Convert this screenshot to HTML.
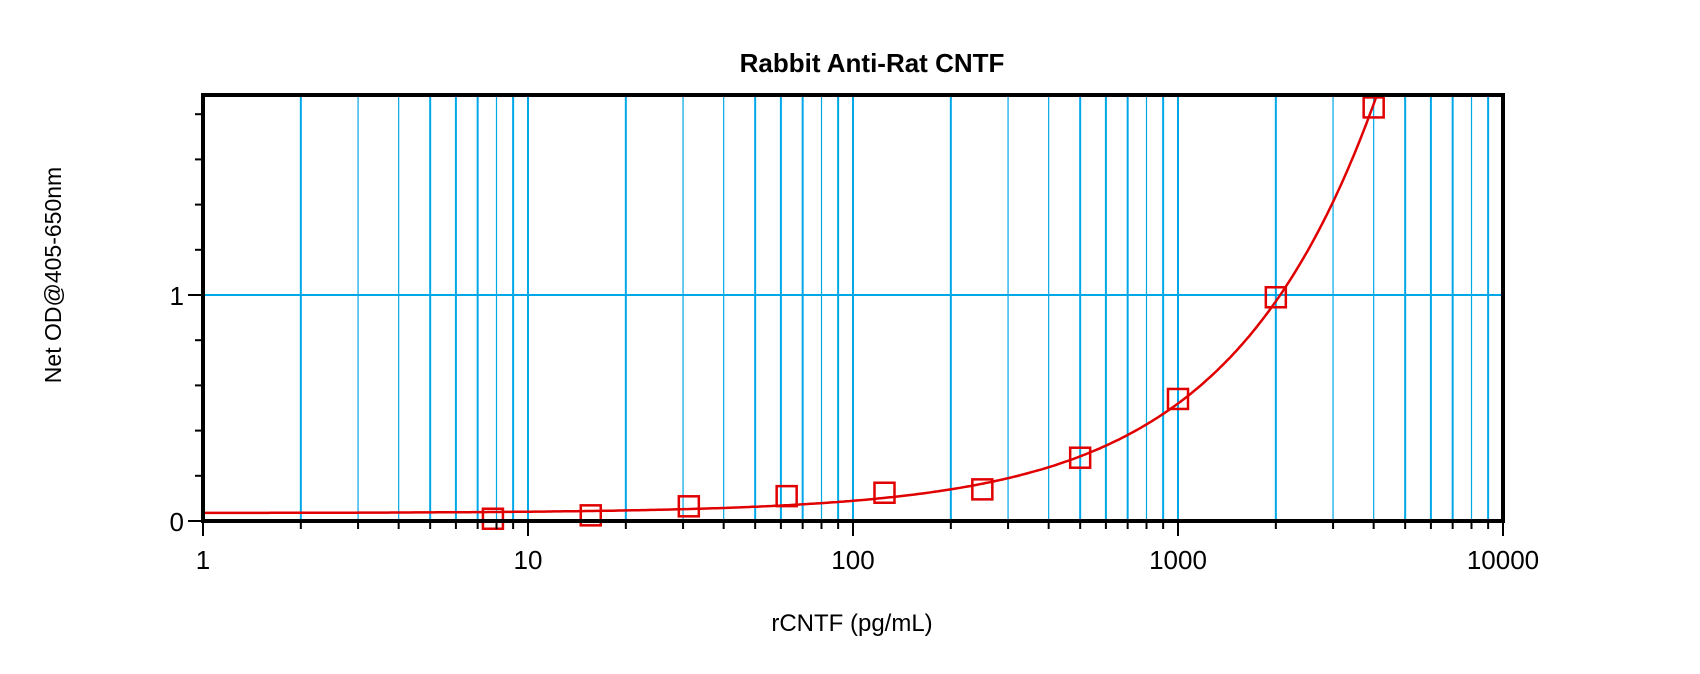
<!DOCTYPE html>
<html><head><style>body{margin:0;background:#fff}svg{display:block}</style></head>
<body>
<svg id="s" width="1700" height="674" xmlns="http://www.w3.org/2000/svg" font-family="Liberation Sans, sans-serif">
<defs><clipPath id="c"><rect x="203" y="95" width="1300" height="426"/></clipPath></defs>
<g id="grid" stroke="#00a8e8"></g>
<path id="curve" fill="none" stroke="#e00000" stroke-width="2.5" clip-path="url(#c)"/>
<g id="pts" fill="none" stroke="#e00000" stroke-width="2.5"></g>
<rect x="203" y="95" width="1300" height="426" fill="none" stroke="#000" stroke-width="4"/>
<g id="ticks" stroke="#000" stroke-width="2"></g>
<text x="872" y="72" font-size="26" font-weight="bold" text-anchor="middle">Rabbit Anti-Rat CNTF</text>
<text transform="translate(61,275) rotate(-90)" font-size="23" text-anchor="middle">Net OD@405-650nm</text>
<text x="852" y="631" font-size="24" text-anchor="middle">rCNTF (pg/mL)</text>
<g font-size="26" text-anchor="middle" id="xl"></g>
<text x="184" y="305" font-size="26" text-anchor="end">1</text>
<text x="184" y="531" font-size="26" text-anchor="end">0</text>
</svg>
<script>
const L=203,B=521,D=325,U=226,NS="http://www.w3.org/2000/svg";
const X=v=>L+Math.log10(v)*D, Y=v=>B-v*U;
function el(p,t,a){const e=document.createElementNS(NS,t);for(const k in a)e.setAttribute(k,a[k]);document.getElementById(p).appendChild(e);return e;}
const thin={3:1,4:1,8:1};
for(let d=0;d<4;d++)for(let m=2;m<=10;m++){const x=X(m*Math.pow(10,d));if(d==3&&m==10)continue;
el('grid','line',{x1:x,x2:x,y1:95,y2:521,'stroke-width':thin[m]?1.2:2});
el('ticks','line',{x1:x,x2:x,y1:521,y2:m==10?536:529});}
el('grid','line',{x1:203,x2:1503,y1:Y(1),y2:Y(1),'stroke-width':2});
el('ticks','line',{x1:203,x2:203,y1:521,y2:536});
el('ticks','line',{x1:1503,x2:1503,y1:521,y2:536});
for(let i=0;i<=9;i++){const y=Y(i*0.2);el('ticks','line',{x1:i%5==0?188:195,x2:203,y1:y,y2:y});}
[1,10,100,1000,10000].forEach((v,i)=>{el('xl','text',{x:X(v),y:569}).textContent=v;});
const f=x=>0.035+0.000685*Math.pow(x,0.95);
let d='';for(let lx=0;lx<=3.65;lx+=0.01){const x=Math.pow(10,lx);const y=f(x);d+=(d?'L':'M')+X(x).toFixed(1)+' '+Y(y).toFixed(1);}
document.getElementById('curve').setAttribute('d',d);
[[7.8,0.01],[15.6,0.025],[31.25,0.065],[62.5,0.11],[125,0.125],[250,0.14],[500,0.28],[1000,0.54],[2000,0.99],[4000,1.83]].forEach(([x,y])=>el('pts','rect',{x:X(x)-10,y:Y(y)-10,width:20,height:20}));
</script>
</body></html>
